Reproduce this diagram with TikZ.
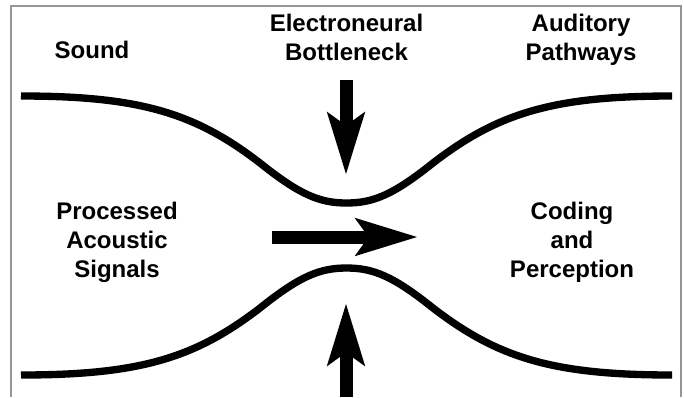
\documentclass[tikz,border=0pt]{standalone}
\usepackage{fontspec}
\setmainfont{Liberation Sans}
\usetikzlibrary{arrows.meta}

\tikzset{every picture/.style={line width=0.75pt}}
\tikzset{
  lbl/.style={anchor=north, align=center, inner sep=0.75pt, font=\fontsize{18}{21.5}\selectfont\bfseries},
  wall/.style={line width=5.5pt},
  fatarrow/.style={line width=9.75pt, -{Stealth[length=46pt, width=27pt, inset=9pt]}},
  framebox/.style={draw={rgb, 255:red, 150; green, 150; blue, 150}, line width=1.2pt}
}

\begin{document}
\begin{tikzpicture}[x=0.75pt,y=0.75pt,yscale=-1,xscale=1]
\useasboundingbox (0,0) rectangle (684,397);

%Frame
\draw [framebox] (11,397) -- (11,6) -- (681,6) -- (681,397) ;

%Upper wall
\draw [wall] (21,96) .. controls (140,96) and (195,113) .. (260,163) .. controls (300,195) and (320,203) .. (346.5,203) .. controls (373,203) and (393,195) .. (433,163) .. controls (498,113) and (553,96) .. (672,96) ;
%Lower wall
\draw [wall] (21,375) .. controls (140,375) and (195,358) .. (260,308) .. controls (300,276) and (320,268) .. (346.5,268) .. controls (373,268) and (393,276) .. (433,308) .. controls (498,358) and (553,375) .. (672,375) ;

%Arrow ends
\coordinate (dntail) at (346,80) ;
\coordinate (dntip) at (346,175) ;
\coordinate (uptail) at (346,397) ;
\coordinate (uptip) at (346,303) ;
\coordinate (rttail) at (272,237) ;
\coordinate (rttip) at (418,237) ;

%Arrows
\draw [fatarrow] (dntail) -- (dntip) ;
\draw [fatarrow] (uptail) -- (uptip) ;
\draw [fatarrow] (rttail) -- (rttip) ;

% Text Node
\node [lbl] (sound) at (92,40) {Sound};
% Text Node
\node [lbl] (bneck) at (346.5,13) {Electroneural\\Bottleneck};
% Text Node
\node [lbl] (paths) at (581,13) {Auditory\\Pathways};
% Text Node
\node [lbl] (proc) at (117,201) {Processed\\Acoustic\\Signals};
% Text Node
\node [lbl] (coding) at (572,201) {Coding\\and\\Perception};

\end{tikzpicture}
\end{document}
